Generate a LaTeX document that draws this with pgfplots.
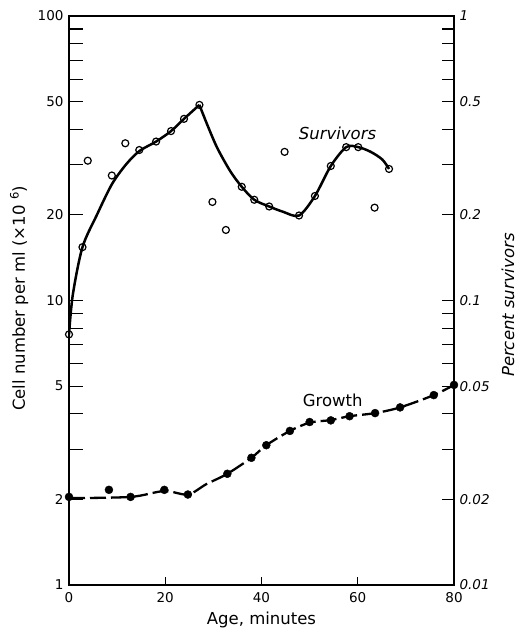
\documentclass[border=0pt]{standalone}
\usepackage{fontspec}
\setmainfont{DejaVu Sans}
\usepackage{pgfplots}
\pgfplotsset{compat=1.18}
\newcommand{\tickfont}{\fontsize{13.5}{16}\selectfont}
\newcommand{\labfont}{\fontsize{16.5}{20}\selectfont}
\begin{document}
\begin{tikzpicture}
\path[use as bounding box] (-69pt,-43pt) rectangle (452pt,585pt);
\begin{axis}[
  scale only axis, width=385pt, height=569pt,
  xmin=0, xmax=80, ymin=1, ymax=100, ymode=log,
  xtick={0,20,40,60,80}, xticklabels={0,20,40,60,80},
  ytick={1,2,5,10,20,50,100}, yticklabels={1,2,5,10,20,50,100},
  minor ytick={3,4,6,7,8,9,30,40,60,70,80,90},
  xtick pos=bottom, ytick pos=left,
  tick align=inside,
  major tick length=14pt, minor tick length=14pt,
  xtick style={/pgfplots/major tick length=8pt},
  axis line style={line width=1.3pt},
  every tick/.style={black, line width=1.1pt},
  tick label style={font=\tickfont},
  xticklabel style={yshift=-4pt},
  yticklabel style={xshift=-2pt},
  xlabel={Age, minutes},
  xlabel style={font=\labfont, at={(axis description cs:0.5,0)}, anchor=base, yshift=-39pt},
  ylabel={Cell number per ml (×10 \textsuperscript{6})},
  ylabel style={font=\labfont, at={(axis description cs:-0.1143,0.504)}, anchor=base},
]
% survivors fitted curve (rising part)
\addplot[black, line width=2.5pt, smooth, tension=0.5] coordinates {
(0,7.6) (0.8,10.5) (2.8,15.4) (5.8,20) (8.9,25.6) (11.8,30) (14.6,33.5) (18.1,36.2) (21.2,39.4) (23.9,43.5) (27.1,48.7)
};
% survivors fitted curve (falling part)
\addplot[black, line width=2.5pt, smooth, tension=0.5] coordinates {
(27.1,48.7) (28.7,41.6) (30.8,34.4) (33.5,28.5) (35.9,25.1) (38.5,22.6) (41.6,21.4) (44.5,20.5) (47.8,19.9) (51.1,23.3) (54.4,29.7) (57.6,34.6) (60.1,34.6) (62.7,33.3) (65.1,31.3) (66.5,29.0)
};
% survivors measured
\addplot[only marks, mark=o, mark size=3.5pt, mark options={fill=white, draw=black, line width=1.2pt}] coordinates {
(0,7.6) (2.8,15.4) (3.9,31.0) (8.9,27.5) (11.7,35.7) (14.6,33.8) (18.1,36.2) (21.2,39.4) (23.9,43.5) (27.1,48.7) (29.8,22.2) (32.6,17.7) (35.9,25.1) (38.5,22.6) (41.6,21.4) (44.8,33.3) (47.8,19.9) (51.1,23.3) (54.4,29.7) (57.6,34.6) (60.1,34.6) (63.5,21.2) (66.5,29.0)
};
% growth fitted curve
\addplot[black, line width=2.3pt, smooth, tension=0.5, dash pattern=on 16pt off 5pt] coordinates {
(0,2.02) (12.8,2.04) (19.8,2.14) (24.7,2.08) (28.5,2.26) (32.9,2.46) (37.9,2.80) (41,3.10) (45.9,3.48) (50,3.72) (54.4,3.80) (58.3,3.92) (63.6,4.02) (68.8,4.21) (75.8,4.65) (80,5.05)
};
% growth measured
\addplot[only marks, mark=*, mark size=4pt, mark options={fill=black, draw=black}] coordinates {
(0,2.04) (8.3,2.16) (12.8,2.04) (19.8,2.16) (24.7,2.08) (32.9,2.46) (37.9,2.80) (41.0,3.10) (45.9,3.48) (50.0,3.74) (54.4,3.79) (58.3,3.92) (63.6,4.02) (68.8,4.21) (75.8,4.65) (80,5.05)
};
\node[font=\labfont\itshape] at (axis cs:55.8,38.8) {Survivors};
\node[font=\labfont] at (axis cs:54.8,4.45) {Growth};
\node[font=\labfont] at (axis description cs:0.088,-0.065) {,};
\end{axis}
\begin{axis}[
  scale only axis, width=385pt, height=569pt,
  xmin=0, xmax=80, ymode=log, ymin=0.01, ymax=1,
  hide x axis, axis y line*=right,
  ytick={0.01,0.02,0.05,0.1,0.2,0.5,1},
  yticklabels={0.01,0.02,0.05,0.1,0.2,0.5,1},
  minor ytick={0.03,0.04,0.06,0.07,0.08,0.09,0.3,0.4,0.6,0.7,0.8,0.9},
  tick align=inside, major tick length=12pt, minor tick length=12pt,
  axis line style={line width=1.3pt},
  every tick/.style={black, line width=1.1pt},
  yticklabel style={font=\tickfont\itshape, xshift=2pt},
  ylabel={Percent survivors},
  ylabel style={font=\labfont\itshape, at={(axis description cs:1.156,0.492)}, anchor=base},
]
\addplot[draw=none] coordinates {(0,0.5)};
\end{axis}
\end{tikzpicture}
\end{document}
